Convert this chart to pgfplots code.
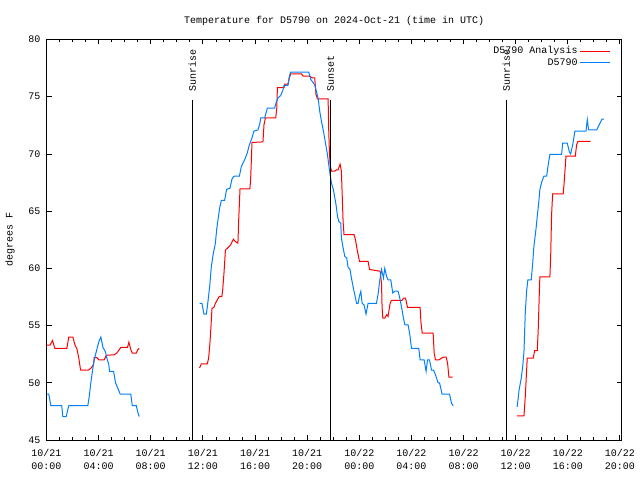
\documentclass[border=0pt]{standalone}
\usepackage{fontspec}
\setmainfont{Liberation Mono}
\usepackage{pgfplots}
\pgfplotsset{compat=1.18}
\definecolor{gred}{RGB}{255,0,0}
\definecolor{gblue}{RGB}{0,128,255}
\begin{document}
\fontsize{10bp}{13bp}\selectfont
\begin{tikzpicture}
\path[use as bounding box] (0,0) rectangle (640bp,480bp);
\begin{axis}[
  at={(46.5bp,40bp)}, anchor=south west,
  scale only axis, width=575.2bp, height=400.5bp,
  xmin=0, xmax=44.14, ymin=45, ymax=80,
  axis line style={line width=0.9bp},
  tick style={line width=0.8bp, black},
  major tick length=5bp, minor tick length=3bp,
  tick align=inside,
  xtick={0,4,8,12,16,20,24,28,32,36,40,44},
  xticklabels={{10/21\\00:00},{10/21\\04:00},{10/21\\08:00},{10/21\\12:00},{10/21\\16:00},{10/21\\20:00},{10/22\\00:00},{10/22\\04:00},{10/22\\08:00},{10/22\\12:00},{10/22\\16:00},{10/22\\20:00}},
  minor xtick={1,2,3,5,6,7,9,10,11,13,14,15,17,18,19,21,22,23,25,26,27,29,30,31,33,34,35,37,38,39,41,42,43},
  xticklabel style={align=center, font=\fontsize{10bp}{13bp}\selectfont, inner sep=0pt, yshift=-9bp},
  ytick={45,50,55,60,65,70,75,80},
  yticklabel style={font=\fontsize{10bp}{13bp}\selectfont, inner sep=0pt, xshift=-6bp},
  /pgf/number format/assume math mode=true,
  title={Temperature for D5790 on 2024-Oct-21 (time in UTC)},
  title style={at={(0.5,1)}, anchor=center, yshift=13bp, font=\fontsize{10bp}{13bp}\selectfont},
  ylabel={degrees F},
  ylabel style={at={(axis description cs:-0.0635,0.5)}, anchor=center, font=\fontsize{10bp}{13bp}\selectfont},
  legend plot pos=right,
  legend cell align=right,
  legend style={draw=none, fill=none, at={(rel axis cs:1,1)}, anchor=north east, xshift=-10bp, yshift=-4bp, font=\fontsize{10bp}{13bp}\selectfont, row sep=-1bp, inner sep=1bp},
  legend image code/.code={\draw[#1] (0bp,0bp) -- (30bp,0bp);},
  every axis plot/.append style={line width=1bp, line join=miter},
]
% ---- D5790 Analysis (red)
\addplot[gred] coordinates {
(0,53.3)(0.28,53.3)(0.46,53.7)(0.64,53.0)(1.56,53.0)(1.71,54.0)(2.02,54.0)(2.20,53.25)(2.33,53.0)(2.48,52.15)(2.59,51.3)(2.63,51.1)(3.20,51.1)(3.43,51.3)(3.61,51.6)(3.66,52.2)(3.86,52.2)(4.02,52.0)(4.43,52.0)(4.59,52.4)(5.20,52.45)(5.40,52.6)(5.71,53.1)(6.22,53.1)(6.32,53.55)(6.47,52.9)(6.58,52.6)(6.89,52.6)(7.01,52.9)(7.12,53.0)
};
\addlegendentry{D5790 Analysis}
% ---- D5790 (blue)
\addplot[gblue] coordinates {
(0,49.0)(0.18,49.0)(0.33,48.0)(1.17,48.0)(1.25,47.05)(1.51,47.05)(1.71,48.0)(3.17,48.0)(3.28,48.8)(3.40,50.0)(3.56,51.3)(3.66,52.0)(3.86,52.9)(4.02,53.6)(4.17,54.0)(4.33,53.1)(4.53,52.7)(4.63,52.15)(4.78,51.6)(4.84,51.0)(5.15,51.0)(5.30,50.0)(5.66,49.0)(6.47,49.0)(6.58,48.0)(6.89,48.0)(7.01,47.4)(7.12,47.05)
};
\addlegendentry{D5790}
\addplot[gred, forget plot] coordinates {
(11.75,51.3)(11.88,51.65)(12.34,51.65)(12.44,52.15)(12.54,53.4)(12.65,55.5)(12.70,56.5)(12.85,56.6)(12.96,56.95)(13.11,57.25)(13.26,57.55)(13.46,57.55)(13.52,58.1)(13.62,59.6)(13.73,61.6)(13.92,61.8)(14.13,62.05)(14.34,62.55)(14.49,62.35)(14.69,62.2)(14.75,64.25)(14.85,66.95)(15.61,66.95)(15.67,67.9)(15.77,71.0)(16.61,71.05)(16.69,72.55)(16.80,73.15)(17.59,73.15)(17.67,74.0)(17.72,75.8)(18.23,75.8)(18.28,76.1)(18.53,76.1)(18.64,76.65)(18.74,77.0)(19.56,77.0)(19.69,76.8)(20.20,76.8)(20.38,76.65)(20.58,76.65)(20.68,75.2)(20.79,74.8)(21.61,74.8)(21.66,72.0)(21.71,70.2)(21.76,69.05)(21.87,68.5)(22.12,68.5)(22.25,68.6)(22.37,68.6)(22.53,69.1)(22.63,68.5)(22.68,66.8)(22.76,64.1)(22.83,62.95)(23.60,62.95)(23.71,62.5)(23.86,61.5)(24.02,60.6)(24.68,60.6)(24.79,59.9)(25.60,59.75)(25.71,58.7)(25.75,56.65)(25.81,55.65)(25.96,55.65)(26.11,55.95)(26.21,55.8)(26.37,56.95)(26.47,57.2)(27.29,57.2)(27.40,57.4)(27.55,57.4)(27.70,56.6)(28.67,56.6)(28.73,55.35)(28.83,54.35)(29.67,54.35)(29.75,52.6)(29.85,52.0)(30.11,52.0)(30.31,52.15)(30.47,52.25)(30.67,52.25)(30.78,51.7)(30.88,50.5)(31.16,50.5)
};
\addplot[gblue, forget plot] coordinates {
(11.75,56.95)(11.93,56.95)(12.08,56.0)(12.27,56.0)(12.39,57.1)(12.52,58.4)(12.65,60.15)(12.80,61.3)(12.96,62.2)(13.06,63.4)(13.16,64.25)(13.29,65.3)(13.42,65.95)(13.67,65.95)(13.82,66.9)(14.08,67.0)(14.23,67.8)(14.39,68.05)(14.80,68.05)(14.95,68.9)(15.21,69.5)(15.41,70.1)(15.57,70.8)(15.77,71.4)(15.92,72.0)(16.23,72.1)(16.38,72.7)(16.44,73.15)(16.74,73.15)(16.95,74.0)(17.51,74.0)(17.61,74.45)(17.77,74.9)(17.97,75.1)(18.15,75.6)(18.23,76.0)(18.53,76.0)(18.64,76.8)(18.74,77.15)(20.12,77.15)(20.28,76.5)(20.58,76.05)(20.68,75.6)(20.84,74.9)(20.97,73.7)(21.10,72.85)(21.25,72.0)(21.41,70.95)(21.56,69.95)(21.66,69.05)(21.76,68.2)(21.87,67.45)(22.02,66.85)(22.22,65.55)(22.33,64.55)(22.43,64.1)(22.58,63.95)(22.63,62.65)(22.76,61.8)(22.89,61.05)(23.04,60.9)(23.14,60.1)(23.29,59.9)(23.40,59.15)(23.56,58.2)(23.66,57.7)(23.79,56.95)(23.91,56.95)(24.02,57.6)(24.12,58.0)(24.22,56.95)(24.37,56.8)(24.52,56.0)(24.68,56.95)(25.32,56.95)(25.44,57.7)(25.58,59.0)(25.71,59.9)(25.86,59.15)(25.96,60.0)(26.11,59.25)(26.21,59.0)(26.42,59.0)(26.57,57.85)(26.73,58.0)(26.98,58.0)(27.11,57.4)(27.24,56.65)(27.37,55.8)(27.50,55.05)(27.75,55.05)(27.88,54.2)(28.01,53.0)(28.57,53.0)(28.67,52.0)(28.98,52.0)(29.13,51.0)(29.24,52.0)(29.39,52.0)(29.55,51.1)(29.70,51.1)(29.85,50.7)(30.05,50.0)(30.16,50.0)(30.36,49.0)(30.93,49.0)(31.08,48.2)(31.21,48.0)
};
\addplot[gred, forget plot] coordinates {
(36.12,47.1)(36.64,47.1)(36.74,48.8)(36.84,51.0)(36.89,52.15)(37.35,52.15)(37.46,52.8)(37.66,52.8)(37.73,54.5)(37.81,57.55)(37.86,59.25)(38.63,59.25)(38.69,61.05)(38.76,64.7)(38.84,66.5)(39.65,66.5)(39.71,67.3)(39.81,68.9)(39.86,69.8)(40.58,69.8)(40.68,70.8)(40.78,71.1)(41.76,71.1)
};
\addplot[gblue, forget plot] coordinates {
(36.12,47.9)(36.27,49.4)(36.43,50.4)(36.54,51.4)(36.64,52.7)(36.74,56.1)(36.84,58.0)(36.94,59.0)(37.20,59.0)(37.31,60.45)(37.40,61.9)(37.56,63.4)(37.66,64.55)(37.77,65.7)(37.86,66.9)(38.02,67.6)(38.17,68.05)(38.38,68.05)(38.48,68.9)(38.63,69.95)(39.53,69.95)(39.61,70.95)(39.96,70.95)(40.12,70.2)(40.22,70.0)(40.38,70.8)(40.55,72.0)(41.40,72.0)(41.50,73.0)(41.60,72.1)(42.22,72.1)(42.42,72.55)(42.63,73.05)(42.78,73.05)
};
% ---- sunrise / sunset markers
\addplot[black, forget plot] coordinates {(11.19,45) (11.19,74.75)};
\addplot[black, forget plot] coordinates {(21.79,45) (21.79,74.75)};
\addplot[black, forget plot] coordinates {(35.28,45) (35.28,74.75)};
\node[rotate=90, anchor=west, inner sep=0pt, font=\fontsize{10bp}{13bp}\selectfont] at (axis cs:11.19,75.41) {Sunrise};
\node[rotate=90, anchor=west, inner sep=0pt, font=\fontsize{10bp}{13bp}\selectfont] at (axis cs:21.79,75.41) {Sunset};
\node[rotate=90, anchor=west, inner sep=0pt, font=\fontsize{10bp}{13bp}\selectfont] at (axis cs:35.28,75.41) {Sunrise};
\end{axis}
\end{tikzpicture}
\end{document}
